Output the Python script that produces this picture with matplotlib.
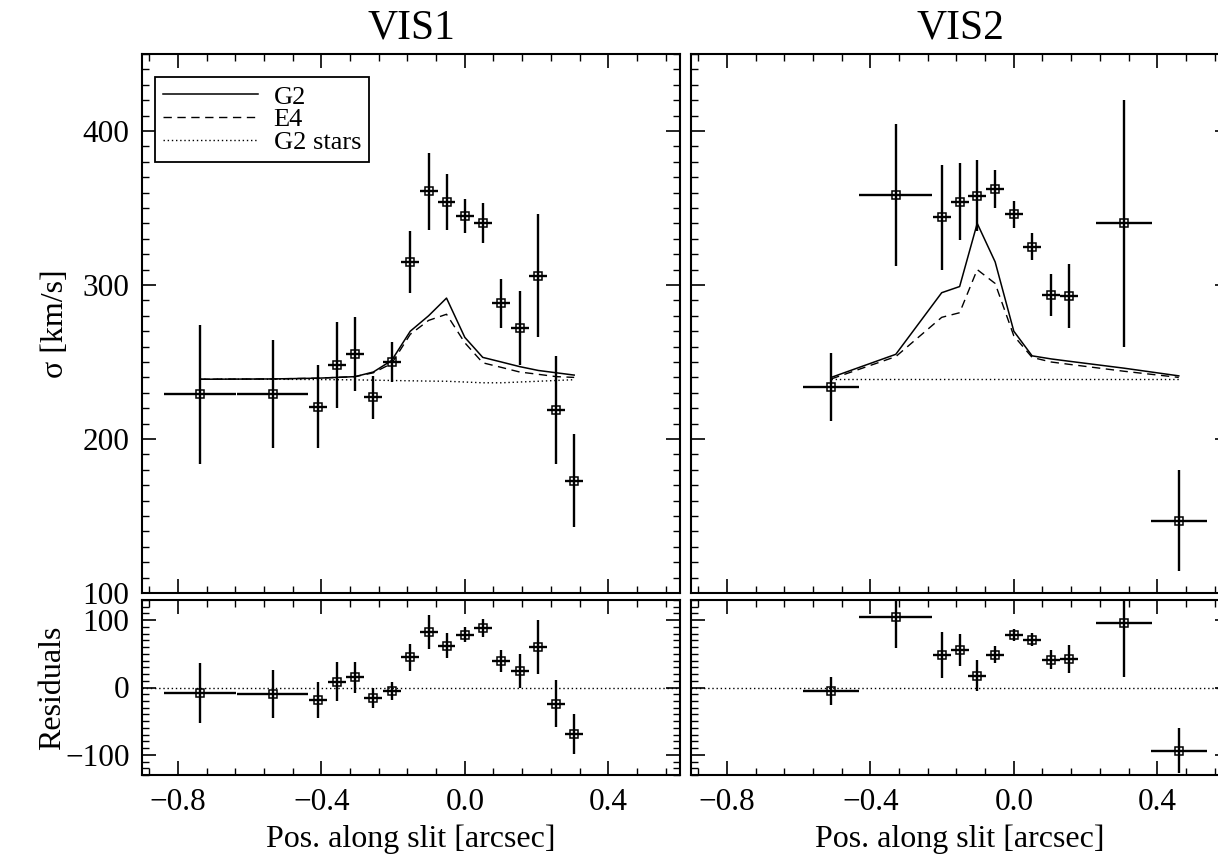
import matplotlib
matplotlib.use("Agg")
import matplotlib.pyplot as plt
from matplotlib.ticker import MultipleLocator

plt.rcParams['font.family'] = ['Liberation Serif', 'DejaVu Serif']
plt.rcParams['axes.unicode_minus'] = True

# ---------------- data ----------------
titles = ["VIS1", "VIS2"]
legend_labels = ["G2", "E4", "G2 stars"]

vis1_x = [-0.738, -0.536, -0.409, -0.357, -0.306, -0.255, -0.204, -0.152, -0.101,
          -0.051, 0.000, 0.050, 0.102, 0.153, 0.205, 0.255, 0.305]
vis1_xerr = [0.100, 0.100, 0.025, 0.025, 0.025, 0.025, 0.025, 0.025, 0.025,
             0.025, 0.025, 0.025, 0.025, 0.025, 0.025, 0.025, 0.025]
vis1_sigma = [229, 229, 221, 248, 255, 227, 250, 315, 361, 354, 345, 340, 288, 272, 306, 219, 173]
vis1_err = [45, 35, 27, 28, 24, 14, 13, 20, 25, 18, 11, 13, 16, 24, 40, 35, 30]
vis1_g2 = [238.8, 239.0, 239.5, 240.0, 240.5, 243.5, 251.0, 270.0, 280.0, 291.5,
           266.0, 253.0, 250.0, 247.0, 244.5, 243.0, 241.5]
vis1_e4 = [238.8, 239.0, 239.5, 240.0, 240.5, 243.0, 249.0, 268.0, 277.0, 281.0,
           262.5, 249.5, 246.5, 243.5, 242.0, 240.5, 240.0]
vis1_stars = [238.8, 238.8, 238.6, 238.5, 238.4, 238.2, 238.0, 237.8, 237.6, 237.5,
              237.0, 236.5, 236.5, 237.0, 237.5, 238.0, 238.5]
vis1_res = [-8.4, -9.4, -18.4, 8.9, 14.9, -15.9, -5.0, 44.7, 82.4, 62.0, 78.4, 88.3,
            39.7, 24.8, 60.0, -23.8, -69.0]
vis1_res_err = [45, 36, 27, 28.5, 23.5, 15, 13, 20, 25.5, 18.6, 11, 13, 16, 25, 40, 35, 30]

vis2_x = [-0.509, -0.329, -0.201, -0.151, -0.102, -0.052, 0.000, 0.051, 0.104, 0.154, 0.307, 0.460]
vis2_xerr = [0.078, 0.102, 0.025, 0.025, 0.025, 0.025, 0.025, 0.025, 0.025, 0.025, 0.078, 0.078]
vis2_sigma = [234, 358.5, 344, 354, 358, 362.5, 346, 325, 293.5, 292.8, 340, 147]
vis2_err = [22, 46, 34, 25, 23, 12.5, 8.7, 9, 13.6, 21, 80, 33]
vis2_g2 = [240, 255, 295, 299, 340, 315, 270, 254, 252, 250.5, 246, 241]
vis2_e4 = [239, 253.5, 279, 282, 310, 301, 267, 253, 250, 248.5, 244, 240]
vis2_stars = [238.8, 238.8, 238.8, 238.8, 238.8, 238.8, 238.8, 238.8, 238.8, 238.8, 238.8, 238.8]
vis2_res = [-5.0, 104.7, 48.6, 56.0, 17.4, 48.6, 78.4, 71.0, 41.2, 42.2, 95.8, -93.8]
vis2_res_err = [21, 46, 34, 24, 23, 12.7, 8.7, 9.4, 14, 20.6, 80, 33]

xticks = [-0.8, -0.4, 0.0, 0.4]
sig_ticks = [100, 200, 300, 400]
res_ticks = [-100, 0, 100]

# ---------------- layout ----------------
W, H = 1218, 856
fig = plt.figure(figsize=(W / 100, H / 100), dpi=100)
fig.patch.set_facecolor('white')

def frac(x0, y0, x1, y1):
    return [x0 / W, 1 - y1 / H, (x1 - x0) / W, (y1 - y0) / H]

panels = [
    dict(left=142, x=vis1_x, xerr=vis1_xerr, s=vis1_sigma, e=vis1_err, g2=vis1_g2,
         e4=vis1_e4, st=vis1_stars, r=vis1_res, re=vis1_res_err),
    dict(left=691, x=vis2_x, xerr=vis2_xerr, s=vis2_sigma, e=vis2_err, g2=vis2_g2,
         e4=vis2_e4, st=vis2_stars, r=vis2_res, re=vis2_res_err),
]
PW = 538
TS = 22.5

def style(ax, yminor):
    ax.set_xlim(-0.9, 0.6)
    ax.set_xticks(xticks)
    ax.xaxis.set_minor_locator(MultipleLocator(0.08))
    ax.yaxis.set_minor_locator(MultipleLocator(yminor))
    ax.tick_params(which='both', direction='in', top=True, right=True, labelsize=TS,
                   color='black')
    ax.tick_params(which='major', length=10, width=1.2, pad=9)
    ax.tick_params(which='minor', length=5, width=1.0)
    for sp in ax.spines.values():
        sp.set_linewidth(1.5)

dashes_e4 = (0, (6, 4))
dots = (0, (1, 2))
ebkw = dict(fmt='s', ms=5.5, mfc='none', mec='black', mew=1.1, ecolor='black',
            elinewidth=1.7, capsize=0, zorder=5)

for i, p in enumerate(panels):
    L = p['left']
    ax = fig.add_axes(frac(L, 54, L + PW, 593))
    axr = fig.add_axes(frac(L, 600, L + PW, 775))

    # top panel
    l1, = ax.plot(p['x'], p['g2'], color='black', lw=1.1, ls='-')
    l2, = ax.plot(p['x'], p['e4'], color='black', lw=1.0, ls=dashes_e4)
    l3, = ax.plot(p['x'], p['st'], color='black', lw=1.0, ls=dots)
    ax.errorbar(p['x'], p['s'], yerr=p['e'], xerr=p['xerr'], **ebkw)
    ax.set_ylim(100, 450)
    ax.set_yticks(sig_ticks)
    style(ax, 10)
    ax.tick_params(labelbottom=False)
    ax.set_title(titles[i], fontsize=30, pad=11)

    # residuals
    axr.axhline(0, color='black', lw=1.0, ls=dots)
    axr.errorbar(p['x'], p['r'], yerr=p['re'], xerr=p['xerr'], **ebkw)
    axr.set_ylim(-130, 130)
    axr.set_yticks(res_ticks)
    style(axr, 10)
    axr.set_xlabel('Pos. along slit [arcsec]', fontsize=23, labelpad=6)

    if i == 0:
        ax.set_ylabel('σ [km/s]', fontsize=23)
        ax.yaxis.set_label_coords(-0.134, 0.5)
        axr.set_ylabel('Residuals', fontsize=23)
        axr.yaxis.set_label_coords(-0.14, 0.5)
        leg = ax.legend([l1, l2, l3], legend_labels, loc='upper left',
                        bbox_to_anchor=(0.024, 0.957), borderaxespad=0,
                        fontsize=19, handlelength=3.6, handletextpad=0.6,
                        borderpad=0.3, labelspacing=-0.03, fancybox=False,
                        framealpha=1, edgecolor='black')
        leg.get_frame().set_linewidth(1.3)
    else:
        ax.tick_params(labelleft=False)
        axr.tick_params(labelleft=False)

fig.savefig('out.png', dpi=100, facecolor='white')
